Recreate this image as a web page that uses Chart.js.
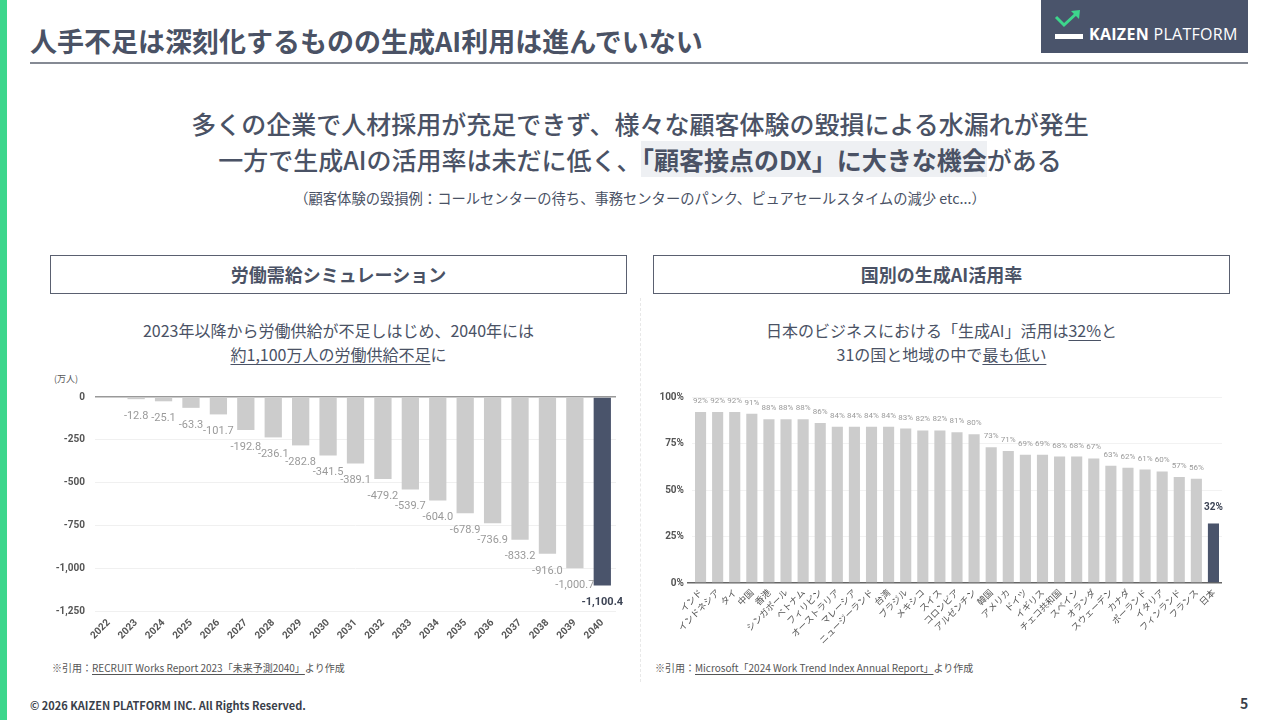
<!DOCTYPE html>
<html lang="ja">
<head>
<meta charset="utf-8">
<script src="https://cdn.jsdelivr.net/npm/chart.js@4.4.1/dist/chart.umd.min.js"></script>
<style>
  body { margin: 0; width: 1280px; height: 720px; position: relative; overflow: hidden; background: #fff;
         font-family: "Noto Sans CJK JP", "Noto Sans", sans-serif; color: #4a5265; }
  .abs { position: absolute; }
  .center { text-align: center; white-space: nowrap; }
  .u { text-decoration: underline; text-underline-offset: 3px; }
  .box { border: 1.5px solid #5a6070; box-sizing: border-box; height: 39px; line-height: 36px;
         font-size: 18px; font-weight: 700; text-align: center; }
</style>
</head>
<body>
  <div class="abs" style="left:0;top:0;width:7px;height:720px;background:#3dd68c"></div>

  <div class="abs" style="left:30px;top:25px;font-size:27px;font-weight:700;line-height:32px;white-space:nowrap">人手不足は深刻化するものの生成AI利用は進んでいない</div>
  <div class="abs" style="left:30px;top:62px;width:1218px;height:2px;background:#858a94"></div>

  <div class="abs" style="left:1041px;top:0;width:207px;height:53px;background:#4a546b">
    <svg class="abs" style="left:12px;top:10px" width="32" height="32" viewBox="0 0 32 32">
      <polyline points="3,7 11,15 24,3" fill="none" stroke="#3dd68c" stroke-width="3"/>
      <polygon points="18,1 27,0 26,9" fill="#3dd68c"/>
      <rect x="2" y="24" width="28" height="5" fill="#fff"/>
    </svg>
    <div class="abs" style="left:48px;top:24px;font-family:'Open Sans','Noto Sans',sans-serif;font-size:16px;letter-spacing:0.3px;line-height:20px;color:#fff;white-space:nowrap"><b>KAIZEN</b> PLATFORM</div>
  </div>

  <div class="abs center" style="left:0;width:1280px;top:105px;font-size:25px;font-weight:500;line-height:36px">多くの企業で人材採用が充足できず、様々な顧客体験の毀損による水漏れが発生</div>
  <div class="abs center" style="left:0;width:1280px;top:141px;font-size:25px;font-weight:500;line-height:36px">一方で生成AIの活用率は未だに低く、<span style="background:#eef0f3;font-weight:700">「顧客接点のDX」に大きな機会</span>がある</div>
  <div class="abs center" style="left:0;width:1280px;top:188px;font-size:14.3px;line-height:20px">（顧客体験の毀損例：コールセンターの待ち、事務センターのパンク、ピュアセールスタイムの減少 etc...）</div>

  <div class="abs box" style="left:50px;top:255px;width:577px">労働需給シミュレーション</div>
  <div class="abs box" style="left:653px;top:255px;width:577px">国別の生成AI活用率</div>

  <div class="abs center" style="left:50px;width:577px;top:318px;font-size:16px;line-height:24px">2023年以降から労働供給が不足しはじめ、2040年には<br><span class="u">約1,100万人の労働供給不足</span>に</div>
  <div class="abs center" style="left:653px;width:577px;top:318px;font-size:16px;line-height:24px">日本のビジネスにおける「生成AI」活用は<span class="u">32%</span>と<br>31の国と地域の中で<span class="u">最も低い</span></div>

  <div class="abs" style="left:640px;top:298px;height:384px;border-left:1px dashed #e8e8e8"></div>

  <div class="abs" style="left:54px;top:373px;font-size:9px;line-height:12px;color:#555">(万人)</div>
  <canvas id="laborChart" class="abs" style="left:40px;top:372px" width="590" height="280"></canvas>
  <canvas id="aiChart" class="abs" style="left:645px;top:385px" width="585" height="268"></canvas>

  <div class="abs" style="left:52px;top:661px;font-size:10px;line-height:14px;color:#555;white-space:nowrap">※引用：<span class="u" style="text-underline-offset:2px">RECRUIT Works Report 2023「未来予測2040」</span>より作成</div>
  <div class="abs" style="left:655px;top:661px;font-size:10px;line-height:14px;color:#555;white-space:nowrap">※引用：<span class="u" style="text-underline-offset:2px">Microsoft「2024 Work Trend Index Annual Report」</span>より作成</div>

  <div class="abs" style="left:30px;top:697px;font-size:11px;font-weight:700;line-height:16px;color:#3a3f4a;white-space:nowrap">© 2026 KAIZEN PLATFORM INC. All Rights Reserved.</div>
  <div class="abs" style="left:1240px;top:694px;font-size:14px;font-weight:700;line-height:18px;color:#3a3f4a">5</div>

<script>
// 労働需給シミュレーション (万人)
const years = ['2022', '2023', '2024', '2025', '2026', '2027', '2028', '2029', '2030', '2031',
  '2032', '2033', '2034', '2035', '2036', '2037', '2038', '2039', '2040'];
const laborGap = [0, -12.8, -25.1, -63.3, -101.7, -192.8, -236.1, -282.8, -341.5, -389.1,
  -479.2, -539.7, -604.0, -678.9, -736.9, -833.2, -916.0, -1000.7, -1100.4];
const laborTicks = [0, -250, -500, -750, -1000, -1250];

// 国別の生成AI活用率 (%)
const countries = ['インド', 'インドネシア', 'タイ', '中国', '香港', 'シンガポール', 'ベトナム', 'フィリピン',
  'オーストラリア', 'マレーシア', 'ニュージーランド', '台湾', 'ブラジル', 'メキシコ', 'スイス', 'コロンビア',
  'アルゼンチン', '韓国', 'アメリカ', 'ドイツ', 'イギリス', 'チェコ共和国', 'スペイン', 'オランダ',
  'スウェーデン', 'カナダ', 'ポーランド', 'イタリア', 'フィンランド', 'フランス', '日本'];
const aiUsage = [92, 92, 92, 91, 88, 88, 88, 86, 84, 84, 84, 84, 83, 82, 82, 81, 80, 73, 71, 69, 69,
  68, 68, 67, 63, 62, 61, 60, 57, 56, 32];
const aiTicks = [0, 25, 50, 75, 100];

const GRAY = '#cccccc';
const DARK = '#4a546b';
const NUM_FONT = 'Roboto, "Noto Sans CJK JP", sans-serif';

// last bar is the highlighted one
const barColors = arr => arr.map((v, i) => i === arr.length - 1 ? DARK : GRAY);

// draws the value text next to the end of each bar
function valueLabels(format, gap, hiGap, size, hiSize) {
  return {
    id: 'valueLabels',
    afterDatasetsDraw(chart) {
      const ctx = chart.ctx;
      const data = chart.data.datasets[0].data;
      ctx.save();
      ctx.textAlign = 'center';
      ctx.textBaseline = 'middle';
      chart.getDatasetMeta(0).data.forEach((bar, i) => {
        const v = data[i];
        if (v === 0) return;
        const hi = i === data.length - 1;
        ctx.font = (hi ? 'bold ' : '') + (hi ? hiSize : size) + 'px ' + NUM_FONT;
        ctx.fillStyle = hi ? '#3d4455' : '#9a9a9a';
        const g = hi ? hiGap : gap;
        ctx.fillText(format(v), bar.x, bar.y + (v < 0 ? g : -g));
      });
      ctx.restore();
    }
  };
}

const oneDecimal = v => v.toLocaleString('en-US', { minimumFractionDigits: 1, maximumFractionDigits: 1 });

new Chart(document.getElementById('laborChart'), {
  type: 'bar',
  data: {
    labels: years,
    datasets: [{ data: laborGap, backgroundColor: barColors(laborGap), barPercentage: 0.63, categoryPercentage: 1 }]
  },
  options: {
    responsive: false,
    animation: false,
    layout: { padding: { top: 25, right: 14 } },
    plugins: { legend: { display: false }, tooltip: { enabled: false } },
    scales: {
      x: {
        grid: { display: false, drawTicks: false },
        border: { display: false },
        ticks: { color: '#555', font: { family: NUM_FONT, size: 10, weight: 'bold' }, minRotation: 45, maxRotation: 45, autoSkip: false, padding: 6 },
        afterFit(s) { s.height = 41; }
      },
      y: {
        min: -1250, max: 0,
        afterBuildTicks(s) { s.ticks = laborTicks.map(v => ({ value: v })); },
        grid: {
          drawTicks: false,
          color: c => c.tick && c.tick.value === 0 ? '#999' : '#f0f0f0',
          lineWidth: c => c.tick && c.tick.value === 0 ? 1.5 : 1
        },
        border: { display: false },
        ticks: { color: '#555', font: { family: NUM_FONT, size: 10, weight: 'bold' }, padding: 10, callback: v => v.toLocaleString('en-US') },
        afterFit(s) { s.width = 55; }
      }
    }
  },
  plugins: [valueLabels(oneDecimal, 17, 17, 11, 11)]
});

new Chart(document.getElementById('aiChart'), {
  type: 'bar',
  data: {
    labels: countries,
    datasets: [{ data: aiUsage, backgroundColor: barColors(aiUsage), barPercentage: 0.65, categoryPercentage: 1 }]
  },
  options: {
    responsive: false,
    animation: false,
    layout: { padding: { top: 12, right: 8 } },
    plugins: { legend: { display: false }, tooltip: { enabled: false } },
    scales: {
      x: {
        grid: { display: false, drawTicks: false },
        border: { display: false },
        ticks: { color: '#555', font: { family: '"Noto Sans CJK JP", sans-serif', size: 9 }, minRotation: 45, maxRotation: 45, autoSkip: false, padding: 4 },
        afterFit(s) { s.height = 70; }
      },
      y: {
        min: 0, max: 100,
        afterBuildTicks(s) { s.ticks = aiTicks.map(v => ({ value: v })); },
        grid: {
          tickLength: 5,
          tickColor: c => c.tick && c.tick.value === 0 ? '#666' : 'transparent',
          color: c => c.tick && c.tick.value === 0 ? '#666' : '#f2f2f2',
          lineWidth: c => c.tick && c.tick.value === 0 ? 1.5 : 1
        },
        border: { display: false },
        ticks: { color: '#555', font: { family: NUM_FONT, size: 10, weight: 'bold' }, padding: 3, callback: v => v + '%' },
        afterFit(s) { s.width = 47; }
      }
    }
  },
  plugins: [valueLabels(v => v + '%', 11, 16, 8, 10)]
});
</script>
</body>
</html>
